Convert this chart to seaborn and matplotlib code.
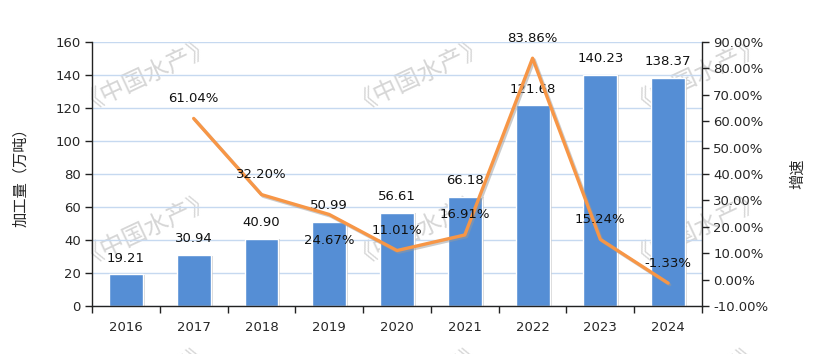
import numpy as np
import pandas as pd
import seaborn as sns
import matplotlib
matplotlib.use("Agg")
import matplotlib.pyplot as plt
import matplotlib.patheffects as pe
from matplotlib.ticker import FuncFormatter, MultipleLocator

# data
years = ["2016", "2017", "2018", "2019", "2020", "2021", "2022", "2023", "2024"]
output = [19.21, 30.94, 40.90, 50.99, 56.61, 66.18, 121.68, 140.23, 138.37]
growth = [np.nan, 61.04, 32.20, 24.67, 11.01, 16.91, 83.86, 15.24, -1.33]
growth_label_below = ["2019"]

bar_color = "#558ED5"
line_color = "#F79646"
grid_color = "#C6D9F0"
wm_text = "《中国水产》"

sns.set_theme(style="white")
plt.rcParams["font.family"] = ["DejaVu Sans", "Noto Sans CJK SC"]
cjk = ["Noto Sans CJK SC", "DejaVu Sans"]

df = pd.DataFrame({"year": years, "output": output, "growth": growth})
df["pos"] = np.arange(len(df))

fig = plt.figure(figsize=(8.16, 3.54), dpi=100)
ax = fig.add_axes([92 / 816, 1 - 306 / 354, 610 / 816, 264 / 354])

# watermarks behind the bars (bottom row is cut by the image edge, as in the original)
for cy in [72, 226, 378]:
    for cx in [145, 418, 695]:
        ax.text(cx / 816, 1 - cy / 354, wm_text, transform=fig.transFigure,
                rotation=25, ha="center", va="center", fontsize=17.5,
                color="#d6d6d6", family=cjk, fontweight="light",
                zorder=0.5, clip_on=False)

sns.barplot(data=df, x="year", y="output", color=bar_color, width=0.5,
            saturation=1, ax=ax, zorder=2)
for p in ax.patches:
    p.set_path_effects([pe.SimplePatchShadow(offset=(1.5, -0.5), shadow_rgbFace="#bbbbbb", alpha=0.6),
                        pe.Normal()])

for i, v in enumerate(output):
    ax.annotate(f"{v:.2f}", (i, v), xytext=(0, 11.5), textcoords="offset points",
                ha="center", va="center", fontsize=9.5, color="#111111", zorder=5)

ax.set_ylim(0, 160)
ax.set_xlim(-0.5, len(years) - 0.5)
ax.yaxis.set_major_locator(MultipleLocator(20))
ax.grid(axis="y", color=grid_color, linewidth=1)
ax.set_axisbelow(True)
ax.set_xlabel("")
ax.set_ylabel("加工量（万吨）", family=cjk, fontsize=11, labelpad=19)
ax.tick_params(axis="y", direction="out", length=5, width=1, color="#222222",
               left=True, labelsize=9.5, pad=3)
ax.tick_params(axis="x", which="major", length=0, labelsize=9.5, pad=11)
ax.set_xticks(np.arange(-0.5, len(years), 1), minor=True)
ax.tick_params(axis="x", which="minor", direction="out", length=5, width=1,
               color="#222222", bottom=True)
for s in ["left", "bottom"]:
    ax.spines[s].set_color("#222222")
    ax.spines[s].set_linewidth(1)
ax.spines["top"].set_visible(False)
ax.spines["right"].set_visible(False)

ax2 = ax.twinx()
line_df = df.dropna()
sns.lineplot(data=line_df, x="pos", y="growth", color=line_color, linewidth=2.4,
             ax=ax2, zorder=4,
             path_effects=[pe.SimpleLineShadow(offset=(1.2, -1.2), shadow_color="#999999", alpha=0.5),
                           pe.Normal()])
for _, r in line_df.iterrows():
    off = -18.4 if r["year"] in growth_label_below else 14.4
    ax2.annotate(f"{r['growth']:.2f}%", (r["pos"], r["growth"]), xytext=(0, off),
                 textcoords="offset points", ha="center", va="center",
                 fontsize=9.5, color="#111111", zorder=6)

ax2.set_ylim(-10, 90)
ax2.set_xlim(-0.5, len(years) - 0.5)
ax2.yaxis.set_major_locator(MultipleLocator(10))
ax2.yaxis.set_major_formatter(FuncFormatter(lambda v, _: f"{v:.2f}%"))
ax2.set_xlabel("")
ax2.set_ylabel("增速", family=cjk, fontsize=11, rotation=90, labelpad=15)
ax2.tick_params(axis="y", direction="out", length=5, width=1, color="#222222",
                right=True, labelsize=9.5, pad=3)
ax2.grid(False)
for s in ["left", "top", "bottom"]:
    ax2.spines[s].set_visible(False)
ax2.spines["right"].set_color("#222222")
ax2.spines["right"].set_linewidth(1)

fig.savefig("out.png", dpi=100, facecolor="white")
